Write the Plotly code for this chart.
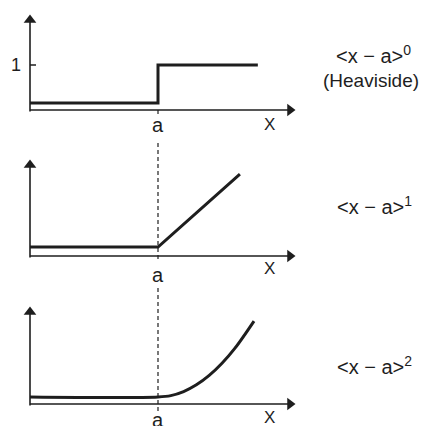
import plotly.graph_objects as go

# ---- data (x in units of a, a = 1) ----
x_step = [0, 1, 1, 1.78]
y_step = [0, 0, 1, 1]

x_ramp = [0, 1, 1.64]
y_ramp = [0, 0, 0.64]

x_quad = [0, 1.0, 1.1, 1.2, 1.3, 1.4, 1.5, 1.6, 1.75]
y_quad = [0, 0, 0.01, 0.04, 0.09, 0.16, 0.25, 0.36, 0.5625]

right_labels = ["&lt;x − a&gt;<sup>0</sup>", "(Heaviside)", "&lt;x − a&gt;<sup>1</sup>", "&lt;x − a&gt;<sup>2</sup>"]

OFF = 8                      # page body margin
W, H = 438 - OFF, 426 - OFF
FONT = "Liberation Sans, Arial, sans-serif"
INK = "#1e1e1e"
X0PX, PXU = 30 - OFF, 128    # pixel of x=0, pixels per unit a


def py(v):
    """reference row -> paper y"""
    return 1 - (v - OFF) / H


def px(v):
    return (v - OFF) / W


fig = go.Figure()

# rows in reference pixels: panel top/bottom, zero level row, px per unit, x-axis row, y-axis top row
panels = [
    dict(rows=(OFF, 140), zero=103, unit=38, axis=110, top=15, xs=x_step, ys=y_step, shape="linear",
         a_row=125, X_row=125),
    dict(rows=(140, 285), zero=247, unit=114, axis=256, top=160, xs=x_ramp, ys=y_ramp, shape="linear",
         a_row=275, X_row=268),
    dict(rows=(285, 426), zero=397, unit=135, axis=404, top=307, xs=x_quad, ys=y_quad, shape="spline",
         a_row=420, X_row=417),
]

XR = [-X0PX / PXU, (W - X0PX) / PXU]
X_END = (295 - 30) / PXU

annotations = []
shapes = []
layout = dict(width=W, height=H, margin=dict(l=0, r=0, t=0, b=0), paper_bgcolor="white",
              plot_bgcolor="white", showlegend=False)

for i, p in enumerate(panels):
    sfx = "" if i == 0 else str(i + 1)
    xa, ya = "x" + sfx, "y" + sfx
    r0, r1 = p["rows"]
    z, u = p["zero"], p["unit"]
    yv = lambda row: (z - row) / u
    layout["xaxis" + sfx] = dict(domain=[0, 1], range=XR, visible=False, fixedrange=True, anchor=ya)
    layout["yaxis" + sfx] = dict(domain=[py(r1), py(r0)], range=[yv(r1), yv(r0)], visible=False,
                                 fixedrange=True, anchor=xa)
    ax_y = yv(p["axis"])
    # function curve
    fig.add_trace(go.Scatter(x=p["xs"], y=p["ys"], mode="lines", xaxis=xa, yaxis=ya,
                             line=dict(color=INK, width=3, shape=p["shape"]), hoverinfo="skip"))
    # axis lines
    shapes.append(dict(type="line", xref=xa, yref=ya, x0=0, x1=X_END - 6 / PXU, y0=ax_y, y1=ax_y,
                       line=dict(color=INK, width=1.6)))
    shapes.append(dict(type="line", xref=xa, yref=ya, x0=0, x1=0, y0=yv(p["axis"] + 1.5), y1=yv(p["top"] + 6),
                       line=dict(color=INK, width=1.6)))
    # arrow heads
    fig.add_trace(go.Scatter(x=[X_END - 5 / PXU], y=[ax_y], mode="markers", xaxis=xa, yaxis=ya,
                             marker=dict(symbol="triangle-right", size=11, color=INK, line=dict(width=0)),
                             hoverinfo="skip"))
    fig.add_trace(go.Scatter(x=[0], y=[yv(p["top"] + 5)], mode="markers", xaxis=xa, yaxis=ya,
                             marker=dict(symbol="triangle-up", size=11, color=INK, line=dict(width=0)),
                             hoverinfo="skip"))
    # "a" and "X" labels
    annotations.append(dict(x=1, y=py(p["a_row"]), xref=xa, yref="paper", text="a", showarrow=False,
                            xanchor="center", yanchor="middle",
                            font=dict(family=FONT, size=20, color=INK)))
    annotations.append(dict(x=(269 - 30) / PXU, y=py(p["X_row"]), xref=xa, yref="paper", text="X",
                            showarrow=False, xanchor="center", yanchor="middle",
                            font=dict(family=FONT, size=17, color=INK)))

# tick "1" on panel 1
shapes.append(dict(type="line", xref="x", yref="y", x0=0, x1=6 / PXU, y0=1, y1=1, line=dict(color=INK, width=1.5)))
annotations.append(dict(x=(16 - 30) / PXU, y=1, xref="x", yref="y", text="1", showarrow=False,
                        xanchor="center", yanchor="middle", font=dict(family=FONT, size=18, color=INK)))

# dashed reference line at x = a
for (a, b) in [(110, 117), (143, 260), (288, 411)]:
    shapes.append(dict(type="line", xref="x", yref="paper", x0=1, x1=1, y0=py(a), y1=py(b),
                       line=dict(color=INK, width=1.2, dash="4px,3px")))

# right-hand labels
for txt, cx, cy, fs in zip(right_labels, [373, 371, 374, 374], [55, 81, 205, 365], [20, 19, 20, 20]):
    annotations.append(dict(x=px(cx), y=py(cy), xref="paper", yref="paper", text=txt, showarrow=False,
                            xanchor="center", yanchor="middle", font=dict(family=FONT, size=fs, color=INK)))

layout["annotations"] = annotations
layout["shapes"] = shapes
fig.update_layout(**layout)
fig.write_html("out.html")
